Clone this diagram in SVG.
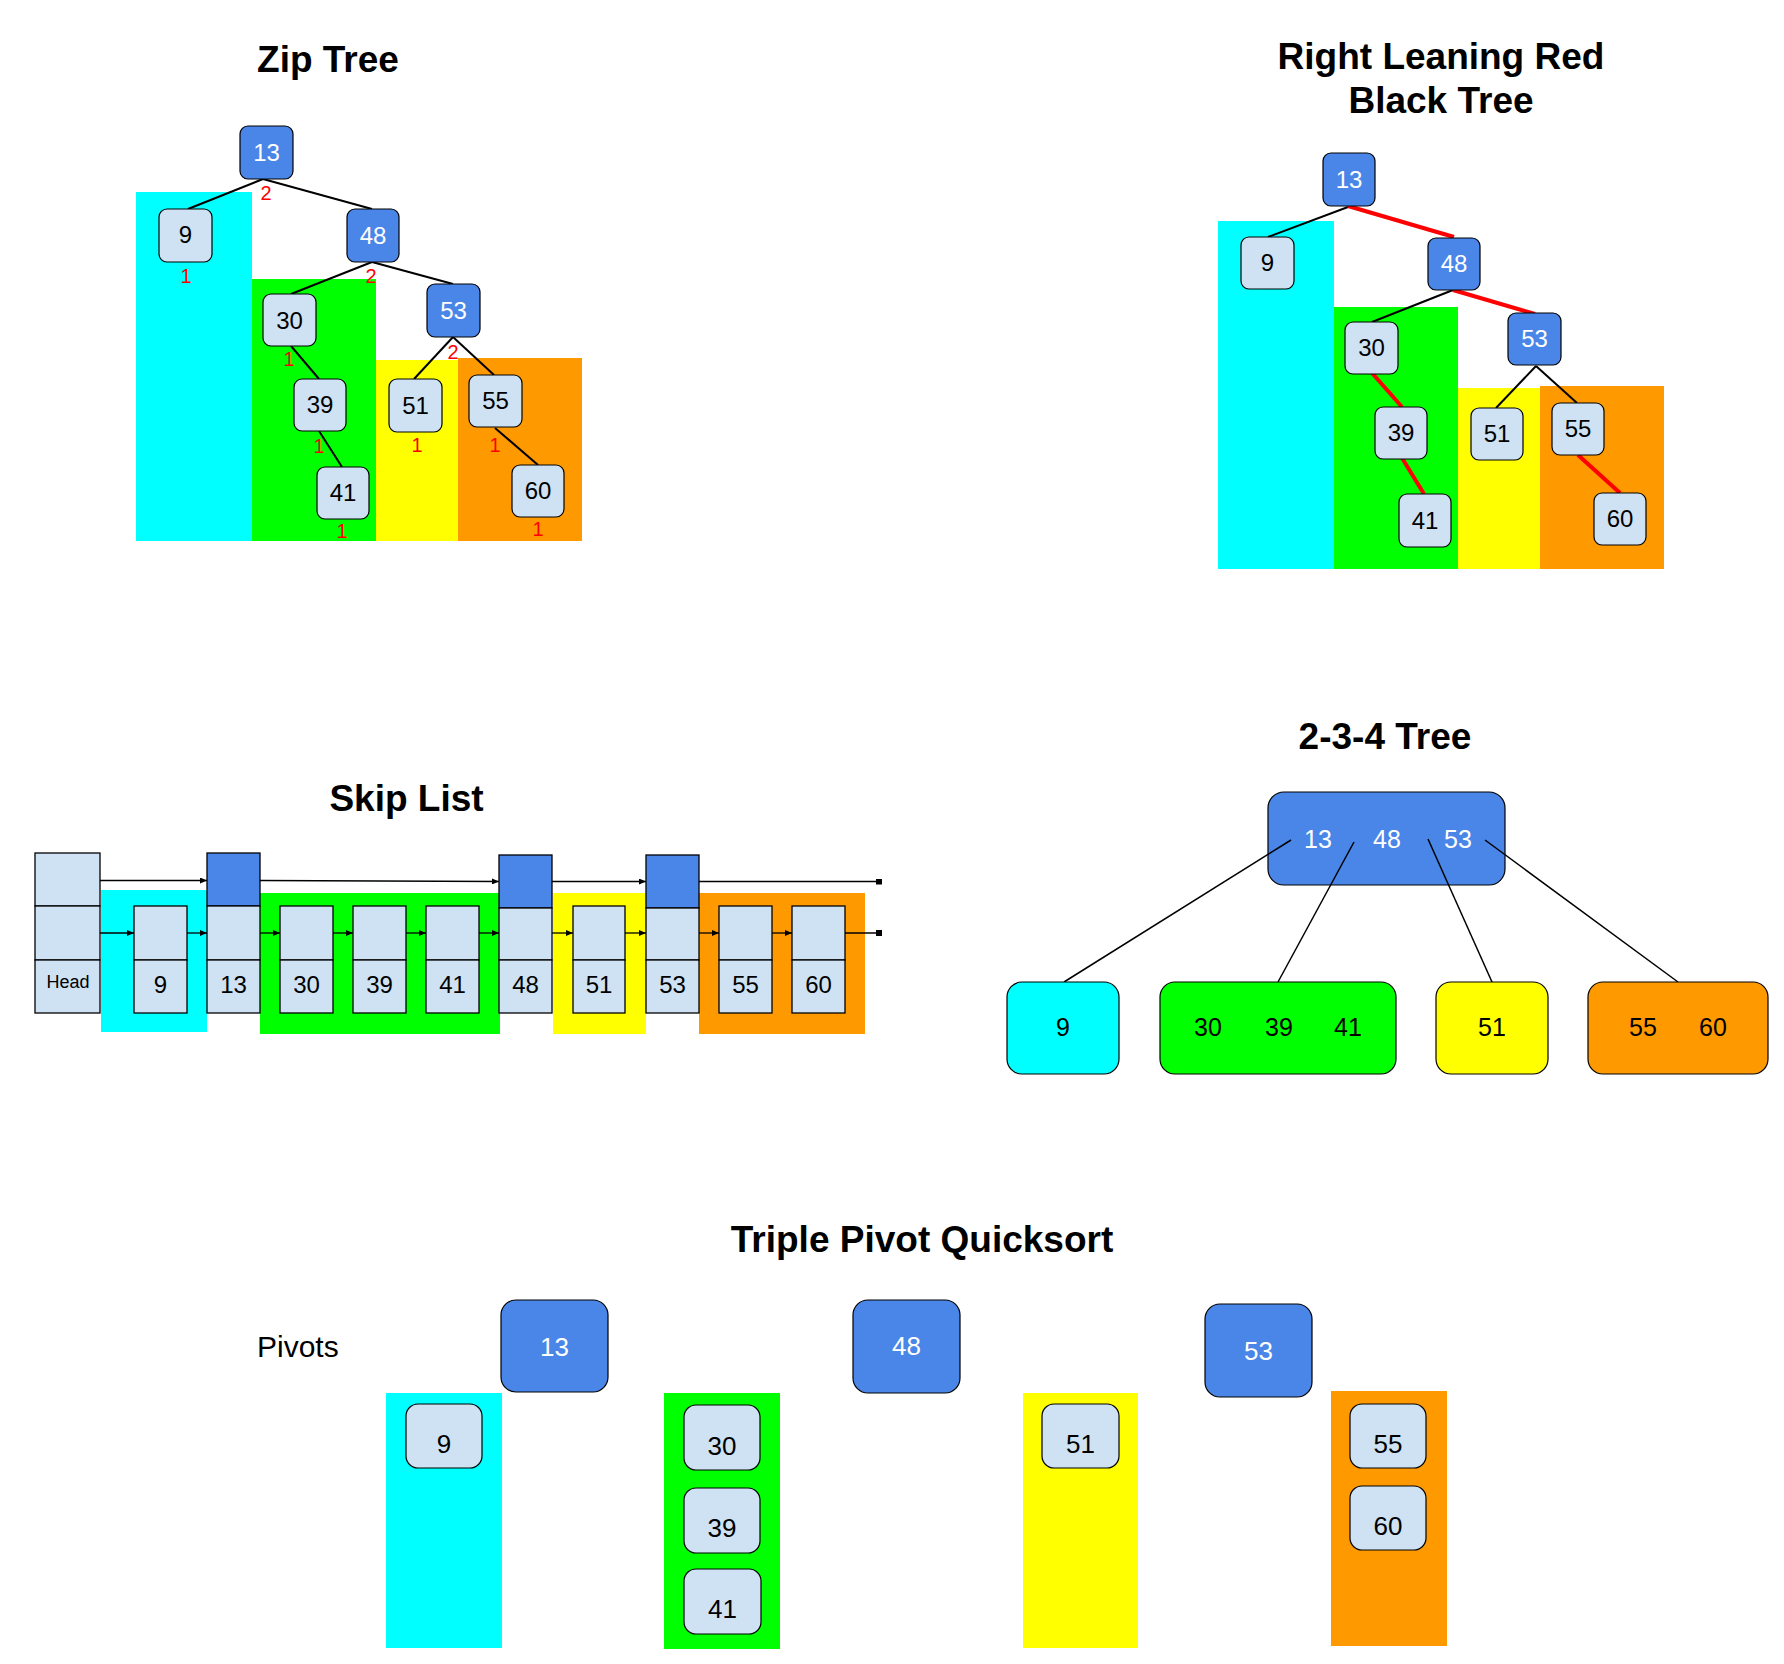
<svg xmlns="http://www.w3.org/2000/svg" width="1784" height="1664" viewBox="0 0 1784 1664">
<defs>
<style>
text{font-family:"Liberation Sans",Arial,sans-serif;}
.title{font-size:37px;font-weight:bold;fill:#000;text-anchor:middle;}
.cy{fill:#00ffff;}
.gr{fill:#00ff00;}
.ye{fill:#ffff00;}
.or{fill:#ff9900;}
.lb{fill:#cfe2f3;stroke:#000;stroke-width:1.2;}
.bl{fill:#4a86e8;stroke:#000;stroke-width:1.2;}
.sq{fill:#cfe2f3;stroke:#000;stroke-width:1.3;}
.sqb{fill:#4a86e8;stroke:#000;stroke-width:1.3;}
.t24{font-size:24px;fill:#000;text-anchor:middle;}
.w24{font-size:24px;fill:#fff;text-anchor:middle;}
.t25{font-size:25px;fill:#000;text-anchor:middle;}
.w25{font-size:25px;fill:#fff;text-anchor:middle;}
.t26{font-size:26px;fill:#000;text-anchor:middle;}
.w26{font-size:26px;fill:#fff;text-anchor:middle;}
.rank{font-size:20px;fill:#ff0000;text-anchor:middle;}
.e{stroke:#000;stroke-width:2;fill:none;}
.er{stroke:#ff0000;stroke-width:4;fill:none;}
.e1{stroke:#000;stroke-width:1.5;fill:none;}
.sl{stroke:#000;stroke-width:1.3;fill:none;marker-end:url(#arr);}
.slend{stroke:#000;stroke-width:1.3;fill:none;marker-end:url(#sqend);}
</style>
<marker id="arr" markerUnits="userSpaceOnUse" markerWidth="8" markerHeight="6" refX="7" refY="3" orient="auto">
<path d="M0,0 L7,3 L0,6 z" fill="#000"/>
</marker>
<marker id="sqend" markerUnits="userSpaceOnUse" markerWidth="6" markerHeight="6" refX="3" refY="3" orient="auto">
<rect x="0" y="0" width="6" height="6" fill="#000"/>
</marker>
</defs>
<rect x="0" y="0" width="1784" height="1664" fill="#fff"/>

<!-- ================= Zip Tree ================= -->
<g id="zip-tree">
<text class="title" x="328" y="72">Zip Tree</text>
<g id="zip-zones">
<rect class="cy" x="136" y="192" width="116" height="349"/>
<rect class="gr" x="252" y="279" width="124" height="262"/>
<rect class="ye" x="376" y="360" width="82" height="181"/>
<rect class="or" x="458" y="358" width="124" height="183"/>
</g>
<g id="zip-edges">
<line class="e" x1="263" y1="179" x2="188" y2="209"/>
<line class="e" x1="263" y1="179" x2="372" y2="209"/>
<line class="e" x1="372" y1="262" x2="291" y2="294"/>
<line class="e" x1="372" y1="262" x2="453" y2="284"/>
<line class="e" x1="291" y1="346" x2="319" y2="379"/>
<line class="e" x1="319" y1="431" x2="342" y2="467"/>
<line class="e" x1="453" y1="337" x2="414" y2="379"/>
<line class="e" x1="453" y1="337" x2="494" y2="375"/>
<line class="e" x1="495" y1="428" x2="538" y2="465"/>
</g>
<g id="zip-13"><rect class="bl" x="240" y="126" width="53" height="53" rx="8"/><text class="w24" x="266.5" y="161">13</text></g>
<g id="zip-9"><rect class="lb" x="159" y="209" width="53" height="53" rx="8"/><text class="t24" x="185.5" y="243">9</text></g>
<g id="zip-48"><rect class="bl" x="347" y="209" width="52" height="53" rx="8"/><text class="w24" x="373" y="244">48</text></g>
<g id="zip-30"><rect class="lb" x="263" y="294" width="53" height="52" rx="8"/><text class="t24" x="289.5" y="329">30</text></g>
<g id="zip-53"><rect class="bl" x="427" y="284" width="53" height="53" rx="8"/><text class="w24" x="453.5" y="319">53</text></g>
<g id="zip-39"><rect class="lb" x="294" y="379" width="52" height="52" rx="8"/><text class="t24" x="320" y="413">39</text></g>
<g id="zip-51"><rect class="lb" x="389" y="379" width="53" height="53" rx="8"/><text class="t24" x="415.5" y="414">51</text></g>
<g id="zip-55"><rect class="lb" x="469" y="375" width="53" height="52" rx="8"/><text class="t24" x="495.5" y="409">55</text></g>
<g id="zip-41"><rect class="lb" x="317" y="467" width="52" height="52" rx="8"/><text class="t24" x="343" y="501">41</text></g>
<g id="zip-60"><rect class="lb" x="512" y="465" width="52" height="52" rx="8"/><text class="t24" x="538" y="499">60</text></g>
<g id="zip-ranks">
<text class="rank" x="266" y="200">2</text>
<text class="rank" x="186" y="283">1</text>
<text class="rank" x="371" y="283">2</text>
<text class="rank" x="289" y="366">1</text>
<text class="rank" x="453" y="359">2</text>
<text class="rank" x="319" y="453">1</text>
<text class="rank" x="417" y="452">1</text>
<text class="rank" x="495" y="452">1</text>
<text class="rank" x="342" y="538">1</text>
<text class="rank" x="538" y="536">1</text>
</g>
</g>

<!-- ================= Right Leaning Red Black Tree ================= -->
<g id="rlrb-tree">
<text class="title" x="1441" y="69">Right Leaning Red</text>
<text class="title" x="1441" y="113">Black Tree</text>
<g id="rlrb-zones">
<rect class="cy" x="1218" y="221" width="116" height="348"/>
<rect class="gr" x="1334" y="307" width="124" height="262"/>
<rect class="ye" x="1458" y="388" width="82" height="181"/>
<rect class="or" x="1540" y="386" width="124" height="183"/>
</g>
<g id="rlrb-edges">
<line class="e" x1="1348" y1="207" x2="1268" y2="237"/>
<line class="er" x1="1348" y1="206" x2="1454" y2="237"/>
<line class="e" x1="1453" y1="290" x2="1372" y2="322"/>
<line class="er" x1="1453" y1="290" x2="1535" y2="314"/>
<line class="er" x1="1372" y1="373" x2="1402" y2="407"/>
<line class="er" x1="1402" y1="458" x2="1424" y2="494"/>
<line class="e" x1="1536" y1="366" x2="1496" y2="408"/>
<line class="e" x1="1536" y1="366" x2="1577" y2="403"/>
<line class="er" x1="1578" y1="455" x2="1620" y2="493"/>
</g>
<g id="rlrb-13"><rect class="bl" x="1323" y="153" width="52" height="53" rx="8"/><text class="w24" x="1349" y="188">13</text></g>
<g id="rlrb-9"><rect class="lb" x="1241" y="237" width="53" height="52" rx="8"/><text class="t24" x="1267.5" y="271">9</text></g>
<g id="rlrb-48"><rect class="bl" x="1428" y="238" width="52" height="52" rx="8"/><text class="w24" x="1454" y="272">48</text></g>
<g id="rlrb-30"><rect class="lb" x="1345" y="322" width="53" height="52" rx="8"/><text class="t24" x="1371.5" y="356">30</text></g>
<g id="rlrb-53"><rect class="bl" x="1508" y="313" width="53" height="52" rx="8"/><text class="w24" x="1534.5" y="347">53</text></g>
<g id="rlrb-39"><rect class="lb" x="1375" y="407" width="52" height="52" rx="8"/><text class="t24" x="1401" y="441">39</text></g>
<g id="rlrb-51"><rect class="lb" x="1471" y="408" width="52" height="52" rx="8"/><text class="t24" x="1497" y="442">51</text></g>
<g id="rlrb-55"><rect class="lb" x="1552" y="403" width="52" height="52" rx="8"/><text class="t24" x="1578" y="437">55</text></g>
<g id="rlrb-41"><rect class="lb" x="1399" y="494" width="52" height="53" rx="8"/><text class="t24" x="1425" y="529">41</text></g>
<g id="rlrb-60"><rect class="lb" x="1594" y="493" width="52" height="52" rx="8"/><text class="t24" x="1620" y="527">60</text></g>
</g>

<!-- ================= Skip List ================= -->
<g id="skip-list">
<text class="title" x="406.5" y="811">Skip List</text>
<g id="skip-zones">
<rect class="cy" x="101" y="890" width="106" height="142"/>
<rect class="gr" x="260" y="893" width="240" height="141"/>
<rect class="ye" x="553" y="893" width="93" height="141"/>
<rect class="or" x="699" y="893" width="166" height="141"/>
</g>
<g id="skip-head">
<rect class="sq" x="35" y="853" width="65" height="53"/>
<rect class="sq" x="35" y="906" width="65" height="54"/>
<rect class="sq" x="35" y="960" width="65" height="53"/>
<text x="68" y="988" style="font-size:18px;text-anchor:middle;fill:#000">Head</text>
</g>
<g id="skip-9">
<rect class="sq" x="134" y="906" width="53" height="54"/>
<rect class="sq" x="134" y="960" width="53" height="53"/>
<text class="t24" x="160.5" y="993">9</text>
</g>
<g id="skip-13">
<rect class="sqb" x="207" y="853" width="53" height="53"/>
<rect class="sq" x="207" y="906" width="53" height="54"/>
<rect class="sq" x="207" y="960" width="53" height="53"/>
<text class="t24" x="233.5" y="993">13</text>
</g>
<g id="skip-30">
<rect class="sq" x="280" y="906" width="53" height="54"/>
<rect class="sq" x="280" y="960" width="53" height="53"/>
<text class="t24" x="306.5" y="993">30</text>
</g>
<g id="skip-39">
<rect class="sq" x="353" y="906" width="53" height="54"/>
<rect class="sq" x="353" y="960" width="53" height="53"/>
<text class="t24" x="379.5" y="993">39</text>
</g>
<g id="skip-41">
<rect class="sq" x="426" y="906" width="53" height="54"/>
<rect class="sq" x="426" y="960" width="53" height="53"/>
<text class="t24" x="452.5" y="993">41</text>
</g>
<g id="skip-48">
<rect class="sqb" x="499" y="855" width="53" height="53"/>
<rect class="sq" x="499" y="908" width="53" height="52"/>
<rect class="sq" x="499" y="960" width="53" height="53"/>
<text class="t24" x="525.5" y="993">48</text>
</g>
<g id="skip-51">
<rect class="sq" x="573" y="906" width="52" height="54"/>
<rect class="sq" x="573" y="960" width="52" height="53"/>
<text class="t24" x="599" y="993">51</text>
</g>
<g id="skip-53">
<rect class="sqb" x="646" y="855" width="53" height="53"/>
<rect class="sq" x="646" y="908" width="53" height="52"/>
<rect class="sq" x="646" y="960" width="53" height="53"/>
<text class="t24" x="672.5" y="993">53</text>
</g>
<g id="skip-55">
<rect class="sq" x="719" y="906" width="53" height="54"/>
<rect class="sq" x="719" y="960" width="53" height="53"/>
<text class="t24" x="745.5" y="993">55</text>
</g>
<g id="skip-60">
<rect class="sq" x="792" y="906" width="53" height="54"/>
<rect class="sq" x="792" y="960" width="53" height="53"/>
<text class="t24" x="818.5" y="993">60</text>
</g>
<g id="skip-edges">
<line class="sl" x1="100" y1="880.5" x2="207" y2="880.5"/>
<line class="sl" x1="260" y1="880.5" x2="499" y2="881.5"/>
<line class="sl" x1="552" y1="881.5" x2="646" y2="881.5"/>
<line class="slend" x1="699" y1="881.5" x2="879" y2="881.5"/>
<line class="sl" x1="100" y1="933" x2="134" y2="933"/>
<line class="sl" x1="187" y1="933" x2="207" y2="933"/>
<line class="sl" x1="260" y1="933" x2="280" y2="933"/>
<line class="sl" x1="333" y1="933" x2="353" y2="933"/>
<line class="sl" x1="406" y1="933" x2="426" y2="933"/>
<line class="sl" x1="479" y1="933" x2="499" y2="933"/>
<line class="sl" x1="552" y1="933" x2="573" y2="933"/>
<line class="sl" x1="625" y1="933" x2="646" y2="933"/>
<line class="sl" x1="699" y1="933" x2="719" y2="933"/>
<line class="sl" x1="772" y1="933" x2="792" y2="933"/>
<line class="slend" x1="845" y1="933" x2="879" y2="933"/>
</g>
</g>

<!-- ================= 2-3-4 Tree ================= -->
<g id="tree-234">
<text class="title" x="1385" y="749">2-3-4 Tree</text>
<g id="t234-root">
<rect class="bl" x="1268" y="792" width="237" height="93" rx="16"/>
<text class="w25" y="848"><tspan x="1318">13</tspan><tspan x="1387">48</tspan><tspan x="1458">53</tspan></text>
</g>
<g id="t234-edges">
<line class="e1" x1="1291" y1="840" x2="1064" y2="982"/>
<line class="e1" x1="1354" y1="842" x2="1278" y2="982"/>
<line class="e1" x1="1428" y1="839" x2="1492" y2="982"/>
<line class="e1" x1="1485" y1="840" x2="1678" y2="982"/>
</g>
<g id="t234-9">
<rect fill="#00ffff" stroke="#000" stroke-width="1.2" x="1007" y="982" width="112" height="92" rx="15"/>
<text class="t25" x="1063" y="1036">9</text>
</g>
<g id="t234-30-39-41">
<rect fill="#00ff00" stroke="#000" stroke-width="1.2" x="1160" y="982" width="236" height="92" rx="15"/>
<text class="t25" y="1036"><tspan x="1208">30</tspan><tspan x="1279">39</tspan><tspan x="1348">41</tspan></text>
</g>
<g id="t234-51">
<rect fill="#ffff00" stroke="#000" stroke-width="1.2" x="1436" y="982" width="112" height="92" rx="15"/>
<text class="t25" x="1492" y="1036">51</text>
</g>
<g id="t234-55-60">
<rect fill="#ff9900" stroke="#000" stroke-width="1.2" x="1588" y="982" width="180" height="92" rx="15"/>
<text class="t25" y="1036"><tspan x="1643">55</tspan><tspan x="1713">60</tspan></text>
</g>
</g>

<!-- ================= Triple Pivot Quicksort ================= -->
<g id="quicksort">
<text class="title" x="922" y="1252">Triple Pivot Quicksort</text>
<text x="257" y="1357" style="font-size:30px;fill:#000">Pivots</text>
<g id="qs-zones">
<rect class="cy" x="386" y="1393" width="116" height="255"/>
<rect class="gr" x="664" y="1393" width="116" height="256"/>
<rect class="ye" x="1023" y="1393" width="115" height="255"/>
<rect class="or" x="1331" y="1391" width="116" height="255"/>
</g>
<g id="qs-p13"><rect class="bl" x="501" y="1300" width="107" height="92" rx="15"/><text class="w26" x="554.5" y="1356">13</text></g>
<g id="qs-p48"><rect class="bl" x="853" y="1300" width="107" height="93" rx="15"/><text class="w26" x="906.5" y="1355">48</text></g>
<g id="qs-p53"><rect class="bl" x="1205" y="1304" width="107" height="93" rx="15"/><text class="w26" x="1258.5" y="1360">53</text></g>
<g id="qs-9"><rect class="lb" x="406" y="1404" width="76" height="64" rx="12"/><text class="t26" x="444" y="1453">9</text></g>
<g id="qs-30"><rect class="lb" x="684" y="1405" width="76" height="65" rx="12"/><text class="t26" x="722" y="1455">30</text></g>
<g id="qs-39"><rect class="lb" x="684" y="1488" width="76" height="65" rx="12"/><text class="t26" x="722" y="1537">39</text></g>
<g id="qs-41"><rect class="lb" x="684" y="1569" width="77" height="65" rx="12"/><text class="t26" x="722.5" y="1618">41</text></g>
<g id="qs-51"><rect class="lb" x="1042" y="1404" width="77" height="64" rx="12"/><text class="t26" x="1080.5" y="1453">51</text></g>
<g id="qs-55"><rect class="lb" x="1350" y="1404" width="76" height="64" rx="12"/><text class="t26" x="1388" y="1453">55</text></g>
<g id="qs-60"><rect class="lb" x="1350" y="1486" width="76" height="64" rx="12"/><text class="t26" x="1388" y="1535">60</text></g>
</g>
</svg>
